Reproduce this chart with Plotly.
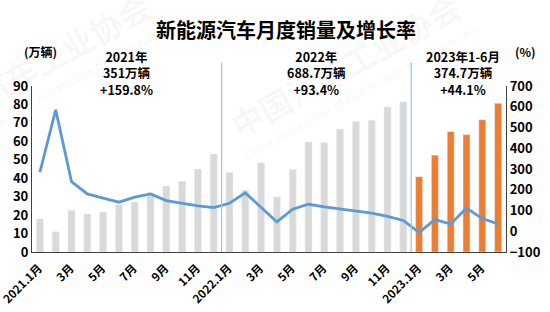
import plotly.graph_objects as go

# Monthly NEV sales (万辆), Jan 2021 - Jun 2023
sales_2021 = [17.9, 11.0, 22.6, 20.6, 21.7, 25.6, 27.1, 32.1, 35.7, 38.3, 45.0, 53.1]
sales_2022 = [43.1, 33.4, 48.4, 29.9, 44.7, 59.6, 59.3, 66.6, 70.8, 71.4, 78.6, 81.4]
sales_2023 = [40.8, 52.5, 65.3, 63.6, 71.7, 80.6]
# Year-on-year growth (%)
growth = [285, 585, 239, 180, 160, 140, 164, 180, 148, 134, 122, 114,
          135, 185, 115, 45, 106, 130, 117, 107, 98, 87, 72, 52,
          -6, 56, 35, 112, 61, 35]
month_labels = ["2021.1月", "3月", "5月", "7月", "9月", "11月",
                "2022.1月", "3月", "5月", "7月", "9月", "11月",
                "2023.1月", "3月", "5月"]
year_titles = ["2021年", "2022年", "2023年1-6月"]
year_totals = ["351万辆", "688.7万辆", "374.7万辆"]
year_growth = ["+159.8%", "+93.4%", "+44.1%"]
wm_cn = "中国汽车工业协会"
wm_en = "China Association of Automobile Manufacturers"

FONT = "Noto Sans CJK SC"
n_old = len(sales_2021) + len(sales_2022)
x_old = list(range(n_old))
x_new = list(range(n_old, n_old + len(sales_2023)))
x_all = list(range(n_old + len(sales_2023)))

fig = go.Figure()
fig.add_trace(go.Bar(x=x_old, y=sales_2021 + sales_2022, marker_color="#d9d9d9",
                     width=0.44, showlegend=False))
fig.add_trace(go.Bar(x=x_new, y=sales_2023, marker_color="#ed7d31",
                     width=0.44, showlegend=False))
fig.add_trace(go.Scatter(x=x_all, y=growth, yaxis="y2", mode="lines",
                         line=dict(color="#5b9bd5", width=2.8), showlegend=False))

# watermark (faint)
for dx in [0.0, -0.654]:
    fig.add_annotation(x=0.660 + dx, y=1.127, xref="paper", yref="paper", text=wm_cn,
                       showarrow=False, textangle=-29, xanchor="center", yanchor="middle",
                       font=dict(family=FONT, size=32, color="rgba(0,0,0,0.045)", weight="bold"))
    fig.add_annotation(x=0.696 + dx, y=0.964, xref="paper", yref="paper", text=wm_en,
                       showarrow=False, textangle=-29, xanchor="center", yanchor="middle",
                       font=dict(family="Open Sans", size=12, color="rgba(0,0,0,0.055)"))

# year dividers
for xv in [11.5, 23.5]:
    fig.add_shape(type="line", xref="x", yref="paper", x0=xv, x1=xv, y0=0, y1=1.14,
                  line=dict(color="#9dc3e6", width=1.2), layer="above")

centers = [5.5, 17.5, 26.8]
for cx, a, b, c in zip(centers, year_titles, year_totals, year_growth):
    fig.add_annotation(x=cx, y=(252 - 73) / 166, xref="x", yref="paper",
                       text=f"{a}<br>{b}<br>{c}", showarrow=False,
                       font=dict(family=FONT, size=12.5, color="#000", weight="bold"),
                       xanchor="center", yanchor="middle", align="center")

fig.add_annotation(x=(40 - 32) / 474, y=(252 - 52) / 166, xref="paper", yref="paper",
                   text="(万辆)", showarrow=False, xanchor="center", yanchor="middle",
                   font=dict(family=FONT, size=12, color="#000", weight="bold"))
fig.add_annotation(x=(525 - 32) / 474, y=(252 - 52) / 166, xref="paper", yref="paper",
                   text="(%)", showarrow=False, xanchor="center", yanchor="middle",
                   font=dict(family=FONT, size=12, color="#000", weight="bold"))

fig.update_layout(
    width=550, height=312,
    margin=dict(l=32, r=44, t=86, b=60, autoexpand=False),
    paper_bgcolor="white", plot_bgcolor="white",
    barmode="overlay",
    title=dict(text="新能源汽车月度销量及增长率", x=286 / 550, xanchor="center",
               y=1 - 31 / 312, yanchor="middle", yref="container",
               font=dict(family=FONT, size=20, color="#000", weight="bold")),
    xaxis=dict(range=[-0.5, 29.5], tickmode="array", automargin=False,
               tickvals=list(range(0, 30, 2)), ticktext=month_labels,
               tickangle=-45, showgrid=False, showline=True, linecolor="#404040",
               linewidth=1.2, ticks="", zeroline=False,
               ticklabelshift=-1, ticklabelstandoff=4, ticklabeloverflow="allow",
               tickfont=dict(family=FONT, size=11.5, color="#000", weight="bold")),
    yaxis=dict(range=[0, 90], dtick=10, showgrid=False, showline=True, automargin=False,
               linecolor="#404040", linewidth=1.2, ticks="", zeroline=False,
               tickfont=dict(family=FONT, size=13, color="#000", weight="bold")),
    yaxis2=dict(range=[-100, 700], dtick=100, overlaying="y", side="right", automargin=False,
                showgrid=False, showline=True, linecolor="#404040", linewidth=1.2,
                ticks="", zeroline=False,
                tickfont=dict(family=FONT, size=13, color="#000", weight="bold")),
)

fig.write_html("out.html")
